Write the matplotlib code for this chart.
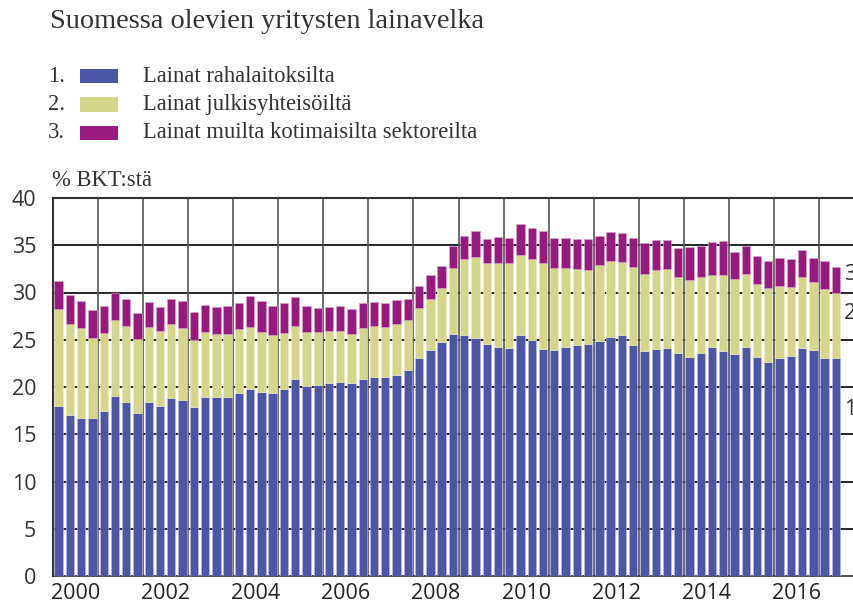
import matplotlib.pyplot as plt
import numpy as np

# Neljännesvuosittaiset tiedot 2000Q1 - 2017Q2, % BKT:stä (kumulatiiviset ylärajat luettu kuvasta)
start_year = 2000
blue_top = [18.0, 17.0, 16.7, 16.7, 17.5, 19.0, 18.4, 17.3,
            18.4, 18.0, 18.8, 18.6, 17.9, 18.9, 18.9, 18.9,
            19.4, 19.8, 19.5, 19.4, 19.8, 20.8, 20.1, 20.2,
            20.4, 20.5, 20.4, 20.8, 21.1, 21.1, 21.3, 21.8,
            23.1, 23.9, 24.8, 25.6, 25.5, 25.2, 24.5, 24.2,
            24.1, 25.5, 25.0, 24.0, 23.9, 24.2, 24.4, 24.5,
            24.9, 25.3, 25.5, 24.4, 23.8, 24.0, 24.1, 23.6,
            23.2, 23.6, 24.2, 23.8, 23.5, 24.2, 23.2, 22.6,
            23.1, 23.3, 24.1, 23.9, 23.1, 23.1]
yellow_top = [28.3, 26.7, 26.2, 25.2, 25.7, 27.1, 26.5, 25.1,
              26.3, 25.9, 26.7, 26.2, 25.0, 25.8, 25.6, 25.6,
              26.1, 26.3, 25.8, 25.5, 25.7, 26.5, 25.8, 25.8,
              25.9, 25.9, 25.6, 26.2, 26.5, 26.4, 26.7, 27.1,
              28.4, 29.3, 30.5, 32.6, 33.5, 33.8, 33.1, 33.1,
              33.1, 34.0, 33.5, 33.1, 32.6, 32.6, 32.5, 32.4,
              32.9, 33.3, 33.2, 32.7, 32.0, 32.4, 32.5, 31.6,
              31.3, 31.6, 31.9, 31.9, 31.4, 32.0, 30.9, 30.5,
              30.7, 30.6, 31.6, 31.1, 30.4, 29.9]
magenta_top = [31.2, 29.7, 29.1, 28.2, 28.6, 29.9, 29.3, 27.8,
               29.0, 28.5, 29.3, 29.1, 27.9, 28.7, 28.5, 28.6,
               28.9, 29.6, 29.1, 28.6, 28.9, 29.5, 28.6, 28.4,
               28.5, 28.6, 28.3, 28.9, 29.0, 28.9, 29.2, 29.3,
               30.7, 31.9, 32.8, 34.9, 36.0, 36.5, 35.7, 35.9,
               35.8, 37.2, 36.8, 36.5, 35.8, 35.8, 35.7, 35.7,
               36.0, 36.4, 36.3, 35.8, 35.2, 35.6, 35.6, 34.7,
               34.8, 34.9, 35.3, 35.4, 34.3, 34.9, 33.9, 33.3,
               33.6, 33.5, 34.5, 33.6, 33.3, 32.7]

labels = ['Lainat rahalaitoksilta', 'Lainat julkisyhteisöiltä',
          'Lainat muilta kotimaisilta sektoreilta']
colors = ['#4d56a4', '#d5d68a', '#971b7f']

blue = np.array(blue_top)
yellow = np.array(yellow_top) - blue
magenta = np.array(magenta_top) - np.array(yellow_top)
x = start_year + (np.arange(len(blue)) + 0.5) / 4

serif = 'Liberation Serif'
sans = 'Open Sans'
txt_col = '#333333'

fig = plt.figure(figsize=(8.54, 6.15), dpi=100)
ax = fig.add_axes([53 / 854, 39 / 615, 801 / 854, 378 / 615])

w = 0.185
ax.bar(x, blue, width=w, color=colors[0], edgecolor='#b9bce0', linewidth=0.4, zorder=3)
ax.bar(x, yellow, width=w, bottom=blue, color=colors[1], edgecolor='#ecedc8', linewidth=0.4, zorder=3)
ax.bar(x, magenta, width=w, bottom=yellow_top, color=colors[2], edgecolor='#d7a6cc', linewidth=0.4, zorder=3)

ax.set_xlim(2000, 2000 + 801 / 45.06)
ax.set_ylim(0, 40)

# gridit
for yv in range(5, 40, 5):
    ax.axhline(yv, color='black', linewidth=1.2, zorder=1)
for yr in range(2001, 2018):
    ax.axvline(yr, color='#555555', linewidth=1.2, zorder=1)

ax.set_yticks(range(0, 41, 5))
ax.set_yticklabels([str(v) for v in range(0, 41, 5)], fontfamily=sans, fontsize=15.5, color=txt_col)
ax.set_xticks([y + 0.5 for y in range(2000, 2017, 2)])
ax.set_xticklabels([str(y) for y in range(2000, 2017, 2)], fontfamily=sans, fontsize=15.5, color='#222222')
ax.tick_params(length=0)
ax.tick_params(axis='y', pad=12)
ax.tick_params(axis='x', pad=5)

for side in ['top', 'left']:
    ax.spines[side].set_color('#333333')
    ax.spines[side].set_linewidth(1.5)
ax.spines['bottom'].set_color('#333333')
ax.spines['bottom'].set_linewidth(1.2)
ax.spines['right'].set_visible(False)

# sarjojen numerot oikealla (alkuperäisessäkin osittain reunan yli)
for txt, yv in [('3', 31.9), ('2', 27.8), ('1', 17.6)]:
    ax.text(2017.55, yv, txt, fontfamily=sans, fontsize=15.5, color=txt_col,
            va='center', ha='left', zorder=4)

# otsikko ja selitteet
fig.text(50 / 854, 1 - 21 / 615, 'Suomessa olevien yritysten lainavelka',
         fontfamily=serif, fontsize=20.4, color=txt_col, va='center')
for i, (lab, col) in enumerate(zip(labels, colors)):
    yc = 1 - (76 + i * 28.5) / 615
    fig.text(48 / 854, yc, f'{i + 1}.', fontfamily=serif, fontsize=16.3, color=txt_col, va='center')
    fig.patches.append(plt.Rectangle((80 / 854, yc - 7 / 615), 38 / 854, 14 / 615,
                                     transform=fig.transFigure, facecolor=col, edgecolor='none'))
    fig.text(143 / 854, yc, lab, fontfamily=serif, fontsize=16.3, color=txt_col, va='center')

fig.text(52 / 854, 1 - 180 / 615, '% BKT:stä', fontfamily=serif, fontsize=16.3, color=txt_col, va='center')

fig.savefig('out.png', dpi=100)
